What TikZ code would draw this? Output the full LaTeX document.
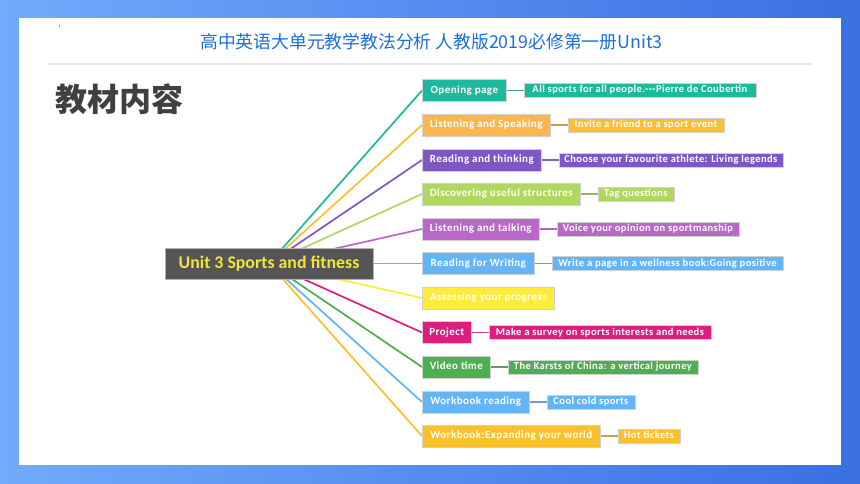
\documentclass[tikz,border=0pt]{standalone}
\usepackage{fontspec}
\setmainfont{Carlito}
\newfontfamily\lblfont[LetterSpace=4]{Carlito}
\newfontfamily\cjk{Noto Sans CJK SC}
\definecolor{bgL}{HTML}{70ABFC}
\definecolor{bgM}{HTML}{649FF8}
\definecolor{bgR}{HTML}{3A6FE2}
\definecolor{cHead}{HTML}{1C6FDA}
\definecolor{cTitle}{HTML}{404040}
\definecolor{cSep}{HTML}{E8E8E8}
\definecolor{cHub}{HTML}{555555}
\definecolor{cHubText}{HTML}{F2E43C}
\definecolor{cTeal}{HTML}{1DB99D}
\definecolor{cOrange}{HTML}{FDB64E}
\definecolor{cAmber}{HTML}{FBC02D}
\definecolor{cPurple}{HTML}{7E57C2}
\definecolor{cLime}{HTML}{B0D762}
\definecolor{cOrchid}{HTML}{BA68C8}
\definecolor{cSky}{HTML}{64B5F6}
\definecolor{cYellow}{HTML}{FFEB3B}
\definecolor{cMagenta}{HTML}{DC1F7F}
\definecolor{cGreen}{HTML}{4CAF50}
\pgfdeclarelayer{bg}
\pgfdeclarelayer{conn}
\pgfsetlayers{bg,conn,main}
\begin{document}
\begin{tikzpicture}[x=1pt,y=-1pt,
  lvl/.style={draw=black!18, line width=0.6pt, fill=#1, text=white,
    font=\lblfont\bfseries\fontsize{11}{11}\selectfont, minimum height=22pt,
    inner xsep=2pt, inner ysep=0pt, text height=7.4pt, text depth=2pt, anchor=west},
  subbox/.style={draw=black!18, line width=0.6pt, fill=#1, text=white,
    font=\lblfont\bfseries\fontsize{10.5}{10.5}\selectfont, minimum height=14pt,
    inner xsep=2pt, inner ysep=0pt, text height=7pt, text depth=2pt, anchor=west},
  trunk/.style={draw=#1, line width=1.7pt},
  twig/.style={draw=#1!55!gray, line width=1.5pt},
]
\useasboundingbox (0,0) rectangle (860,484);
\begin{pgfonlayer}{bg}
  \shade[left color=bgL, middle color=bgM, right color=bgR] (0,0) rectangle (860,484);
  \fill[white] (19,18) rectangle (841,465);
  \draw[cSep, line width=2pt] (48,64) -- (812,64);
  \fill[black!45] (58.6,25) rectangle (59.4,27);
\end{pgfonlayer}

\node[font=\cjk\fontsize{17.8}{17.8}\selectfont, text=cHead] (hdr) at (431.5,42)
  {高中英语大单元教学教法分析 人教版2019必修第一册Unit3};
\node[font=\cjk\bfseries\fontsize{32}{32}\selectfont, text=cTitle, anchor=west, inner sep=0pt] (ttl) at (55,99) {教材内容};

\node[fill=cHub, draw=black!30, line width=0.6pt, minimum width=208pt, minimum height=31pt,
  text=cHubText, font=\bfseries\fontsize{17.8}{17.8}\selectfont, inner sep=0pt] (hub) at (269,263.5)
  {Unit 3 Sports and fitness};

\node[lvl=cTeal, minimum width=84pt] (n1) at (422,90.5) {Opening page};
\node[lvl=cOrange, minimum width=128pt] (n2) at (422,125) {Listening and Speaking};
\node[lvl=cPurple, minimum width=119pt] (n3) at (422,160) {Reading and thinking};
\node[lvl=cLime, minimum width=158pt] (n4) at (422,194) {Discovering useful structures};
\node[lvl=cOrchid, minimum width=117pt] (n5) at (422,229) {Listening and talking};
\node[lvl=cSky, minimum width=112pt] (n6) at (422,263.5) {Reading for Writing};
\node[lvl=cYellow, minimum width=132pt] (n7) at (422,298) {Assessing your progress};
\node[lvl=cMagenta, minimum width=49pt] (n8) at (422,332.5) {Project};
\node[lvl=cGreen, minimum width=68pt] (n9) at (422,367) {Video time};
\node[lvl=cSky, minimum width=107pt] (n10) at (422,402) {Workbook reading};
\node[lvl=cAmber, minimum width=178pt] (n11) at (422,436) {Workbook:Expanding your world};

\node[subbox=cTeal, minimum width=232pt] (s1) at ([xshift=17pt]n1.east) {All sports for all people.{-}{-}{-}Pierre de Coubertin};
\node[subbox=cAmber, minimum width=156pt] (s2) at ([xshift=17pt]n2.east) {Invite a friend to a sport event};
\node[subbox=cPurple, minimum width=224pt] (s3) at ([xshift=17pt]n3.east) {Choose your favourite athlete: Living legends};
\node[subbox=cLime, minimum width=76pt] (s4) at ([xshift=17pt]n4.east) {Tag questions};
\node[subbox=cOrchid, minimum width=182pt] (s5) at ([xshift=17pt]n5.east) {Voice your opinion on sportmanship};
\node[subbox=cSky, minimum width=231pt] (s6) at ([xshift=17pt]n6.east) {Write a page in a wellness book:Going positive};
\node[subbox=cMagenta, minimum width=222pt] (s8) at ([xshift=17pt]n8.east) {Make a survey on sports interests and needs};
\node[subbox=cGreen, minimum width=190pt] (s9) at ([xshift=17pt]n9.east) {The Karsts of China: a vertical journey};
\node[subbox=cSky, minimum width=88pt] (s10) at ([xshift=17pt]n10.east) {Cool cold sports};
\node[subbox=cAmber, minimum width=62pt] (s11) at ([xshift=17pt]n11.east) {Hot tickets};

\begin{pgfonlayer}{conn}
  \foreach \nd/\col in {n1/cTeal, n2/cAmber, n3/cPurple, n4/cLime, n5/cOrchid, n6/cSky,
      n7/cYellow, n8/cMagenta, n9/cGreen, n10/cSky, n11/cAmber}
    \draw[trunk=\col] (hub.center) -- (\nd.west);
  \foreach \a/\b/\col in {n1/s1/cTeal, n2/s2/cAmber, n3/s3/cPurple, n4/s4/cLime, n5/s5/cOrchid,
      n6/s6/cSky, n8/s8/cMagenta, n9/s9/cGreen, n10/s10/cSky, n11/s11/cAmber}
    \draw[twig=\col] (\a.east) -- (\b.west);
\end{pgfonlayer}
\end{tikzpicture}
\end{document}
